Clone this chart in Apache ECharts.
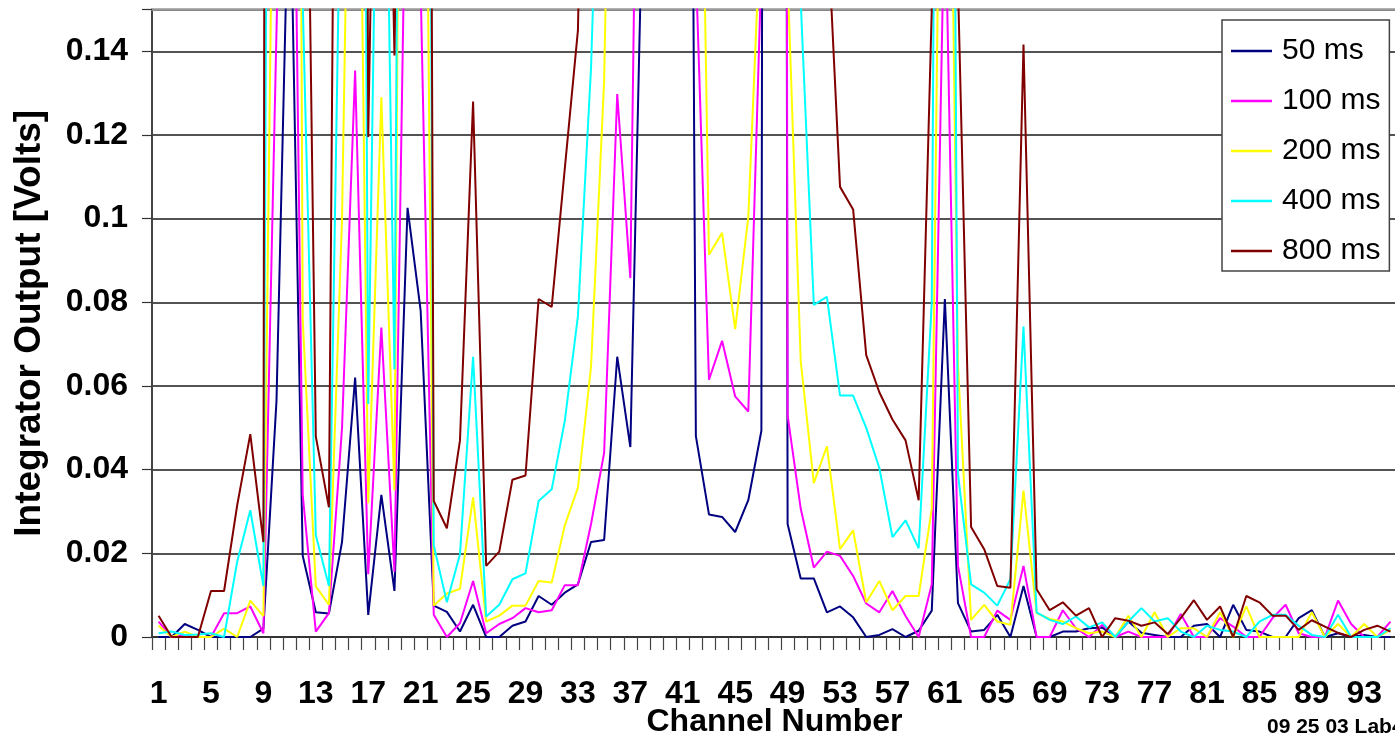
<!DOCTYPE html>
<html>
<head>
<meta charset="utf-8">
<script src="https://cdn.jsdelivr.net/npm/echarts@6/dist/echarts.min.js"></script>
<style>
  html, body { margin: 0; padding: 0; background: #fff; }
  #main { width: 1395px; height: 741px; }
</style>
</head>
<body>
<div id="main"></div>
<script>
// channel numbers 1..95
const channels = [];
for (let i = 1; i <= 95; i++) channels.push(String(i));

const seriesNames = ["50 ms", "100 ms", "200 ms", "400 ms", "800 ms"];
const seriesColors = ["#000080", "#FF00FF", "#FFFF00", "#00FFFF", "#800000"];

// values; anything above 0.15 is off scale (estimated)
const ms50 = [
  0, 0, 0.0031, 0.0017, 0, 0, 0, 0, 0.002, 0.0565,
  0.19, 0.0194, 0.0059, 0.0056, 0.0227, 0.062, 0.0053, 0.034, 0.011, 0.1026,
  0.078, 0.0075, 0.006, 0.0013, 0.0077, 0, 0, 0.0027, 0.0037, 0.0098,
  0.0077, 0.0106, 0.0126, 0.0227, 0.0232, 0.067, 0.0454, 0.185, 0.45, 0.55,
  0.6, 0.048, 0.0293, 0.0287, 0.0251, 0.0327, 0.0493, 2.0, 0.027, 0.014,
  0.014, 0.0059, 0.0073, 0.0047, 0, 0.0005, 0.0019, 0, 0.0015, 0.0063,
  0.0808, 0.0081, 0.0013, 0.0017, 0.0053, 0, 0.0122, 0, 0, 0.0013,
  0.0013, 0.0021, 0.0023, 0, 0.0037, 0.001, 0.0005, 0, 0, 0.0027,
  0.0031, 0, 0.0077, 0.0017, 0.0013, 0, 0, 0.0045, 0.0064, 0,
  0.0009, 0, 0.0005, 0, 0
];
const ms100 = [
  0.0037, 0, 0.0005, 0, 0, 0.0057, 0.0057, 0.0073, 0.0009, 0.145,
  0.28, 0.034, 0.0013, 0.0057, 0.05, 0.1354, 0.015, 0.074, 0.0156, 0.213,
  0.155, 0.0053, 0, 0.0033, 0.0134, 0.0009, 0.0031, 0.0045, 0.0069, 0.0059,
  0.0064, 0.0124, 0.0124, 0.027, 0.044, 0.1298, 0.0858, 0.32, 0.6, 0.7,
  0.6, 0.16, 0.0615, 0.0708, 0.0575, 0.0539, 0.16, 2.0, 0.053, 0.0307,
  0.0166, 0.0204, 0.0194, 0.0146, 0.008, 0.0059, 0.011, 0.005, 0, 0.0126,
  0.18, 0.017, 0, 0, 0.0063, 0.0041, 0.017, 0, 0, 0.0064,
  0.0021, 0, 0.0029, 0, 0.0013, 0, 0, 0, 0.0055, 0,
  0, 0.0045, 0.0025, 0, 0, 0.0045, 0.0077, 0.0009, 0, 0,
  0.0087, 0.0031, 0, 0, 0.0037
];
const ms200 = [
  0.0027, 0, 0.0013, 0, 0, 0.002, 0, 0.0087, 0.005, 0.26,
  0.8, 0.076, 0.0121, 0.0077, 0.1, 0.29, 0.032, 0.129, 0.035, 0.51,
  0.34, 0.0075, 0.0104, 0.0115, 0.0334, 0.0037, 0.0051, 0.0075, 0.0075, 0.0134,
  0.013, 0.0267, 0.0357, 0.0646, 0.133, 0.3, 0.55, 0.75, 0.9, 0.85,
  0.8, 0.287, 0.0914, 0.0966, 0.0736, 0.1004, 0.175, 0.6, 0.158, 0.066,
  0.0368, 0.0456, 0.021, 0.0255, 0.0083, 0.0134, 0.0064, 0.0098, 0.0098, 0.0307,
  0.3, 0.065, 0.0041, 0.0077, 0.0037, 0.0029, 0.035, 0.0057, 0.0043, 0.0037,
  0.0021, 0.0009, 0.0013, 0, 0.0051, 0, 0.0059, 0, 0.0021, 0.0021,
  0, 0.0059, 0, 0.0073, 0, 0, 0, 0, 0.0059, 0,
  0.0031, 0, 0.0031, 0, 0.0017
];
const ms400 = [
  0.0009, 0.0013, 0.0005, 0.0006, 0.0009, 0, 0.018, 0.0303, 0.0122, 0.7,
  1.0, 0.152, 0.0243, 0.0122, 0.204, 0.63, 0.0557, 0.27, 0.064, 0.54,
  0.66, 0.0219, 0.0083, 0.0198, 0.067, 0.0049, 0.0077, 0.0138, 0.0152, 0.0325,
  0.0353, 0.0517, 0.0767, 0.136, 0.236, 0.45, 0.8, 1.0, 1.1, 1.2,
  1.25, 1.2, 1.15, 1.2, 1.1, 1.15, 1.1, 1.0, 0.6, 0.152,
  0.0794, 0.0813, 0.0577, 0.0577, 0.05, 0.0404, 0.0239, 0.0279, 0.0212, 0.08,
  0.6, 0.039, 0.0126, 0.0106, 0.0075, 0.0138, 0.0742, 0.0059, 0.0041, 0.0031,
  0.0049, 0.0023, 0.0035, 0, 0.0037, 0.0069, 0.0037, 0.0045, 0.0013, 0,
  0.0027, 0.0017, 0.0013, 0, 0.0037, 0.0053, 0.0053, 0.0027, 0.0005, 0,
  0.0053, 0, 0, 0, 0.0021
];
const ms800 = [
  0.0051, 0, 0, 0, 0.011, 0.011, 0.0315, 0.0485, 0.0227, 2.0,
  1.5, 0.28, 0.0479, 0.031, 0.44, 1.0, 0.1195, 0.3, 0.139, 0.36,
  0.82, 0.0325, 0.026, 0.047, 0.128, 0.017, 0.0204, 0.0376, 0.0386, 0.0808,
  0.0789, 0.112, 0.145, 0.3, 0.6, 0.9, 1.2, 1.4, 1.5, 1.6,
  1.6, 1.5, 1.4, 1.4, 1.3, 1.2, 1.1, 0.9, 0.6, 0.4,
  0.26, 0.173, 0.1076, 0.1022, 0.0674, 0.0585, 0.052, 0.047, 0.0327, 0.15,
  0.5, 0.156, 0.0263, 0.021, 0.0122, 0.0118, 0.1416, 0.0114, 0.0064, 0.0083,
  0.0051, 0.0069, 0, 0.0045, 0.0039, 0.0027, 0.0035, 0.0007, 0.0045, 0.0088,
  0.0041, 0.0073, 0, 0.0098, 0.0083, 0.0051, 0.0051, 0.0017, 0.004, 0.0025,
  0.001, 0, 0.0017, 0.0027, 0.0013
];

const seriesValues = [ms50, ms100, ms200, ms400, ms800];
const fontFamily = "'Liberation Sans', Arial, sans-serif";

const chart = echarts.init(document.getElementById("main"));

const option = {
  animation: false,
  backgroundColor: "#fff",
  grid: { left: 152, right: -2, top: 9.5, bottom: 104, containLabel: false, outerBoundsMode: "none" },
  legend: {
    orient: "vertical",
    left: 1222,
    top: 20,
    icon: "rect",
    itemWidth: 41,
    itemHeight: 2.5,
    itemGap: 20,
    padding: [16, 9, 5, 9],
    backgroundColor: "#fff",
    borderColor: "#444",
    borderWidth: 1.5,
    selectedMode: false,
    textStyle: { fontSize: 30, lineHeight: 30, fontFamily: fontFamily, color: "#000", padding: [0, 0, 0, 5] },
    data: seriesNames
  },
  xAxis: [
    {
      type: "category",
      data: channels,
      boundaryGap: true,
      name: "Channel Number",
      nameLocation: "middle",
      nameGap: 69,
      nameMoveOverlap: false,
      nameTextStyle: { fontSize: 32, fontWeight: "bold", fontFamily: fontFamily, color: "#000" },
      axisLine: { lineStyle: { color: "#333", width: 2 } },
      axisTick: { show: true, interval: 0, length: 13, lineStyle: { color: "#444", width: 1.2 } },
      axisLabel: { interval: 3, margin: 41, fontSize: 32, fontWeight: "bold", fontFamily: fontFamily, color: "#000" },
      splitLine: { show: false }
    },
    {
      type: "category",
      data: channels,
      position: "top",
      axisLine: { lineStyle: { color: "#999", width: 2.5 } },
      axisTick: { show: false },
      axisLabel: { show: false },
      splitLine: { show: false }
    }
  ],
  yAxis: {
    type: "value",
    min: 0,
    max: 0.15,
    interval: 0.02,
    name: "Integrator Output [Volts]",
    nameLocation: "middle",
    nameGap: 104,
    nameMoveOverlap: false,
    nameTextStyle: { fontSize: 37, fontWeight: "bold", fontFamily: fontFamily, color: "#000" },
    axisLine: { show: true, lineStyle: { color: "#444", width: 2 } },
    axisTick: { show: true, length: 10, lineStyle: { color: "#333", width: 1.2 } },
    axisLabel: {
      margin: 24,
      fontSize: 32,
      fontWeight: "bold",
      fontFamily: fontFamily,
      color: "#000",
      formatter: (v) => (v > 0.145 ? "" : String(+v.toFixed(2)))
    },
    splitLine: { show: true, lineStyle: { color: "#1a1a1a", width: 1.5 } }
  },
  graphic: [
    {
      type: "text",
      left: 1267,
      top: 717,
      style: { text: "09 25 03 Lab4", fontSize: 21, fontWeight: "bold", fontFamily: fontFamily, fill: "#000" }
    }
  ],
  series: seriesNames.map((name, i) => ({
    name: name,
    type: "line",
    data: seriesValues[i],
    symbol: "none",
    clip: true,
    color: seriesColors[i],
    lineStyle: { color: seriesColors[i], width: 2 }
  }))
};

chart.setOption(option);
</script>
</body>
</html>
